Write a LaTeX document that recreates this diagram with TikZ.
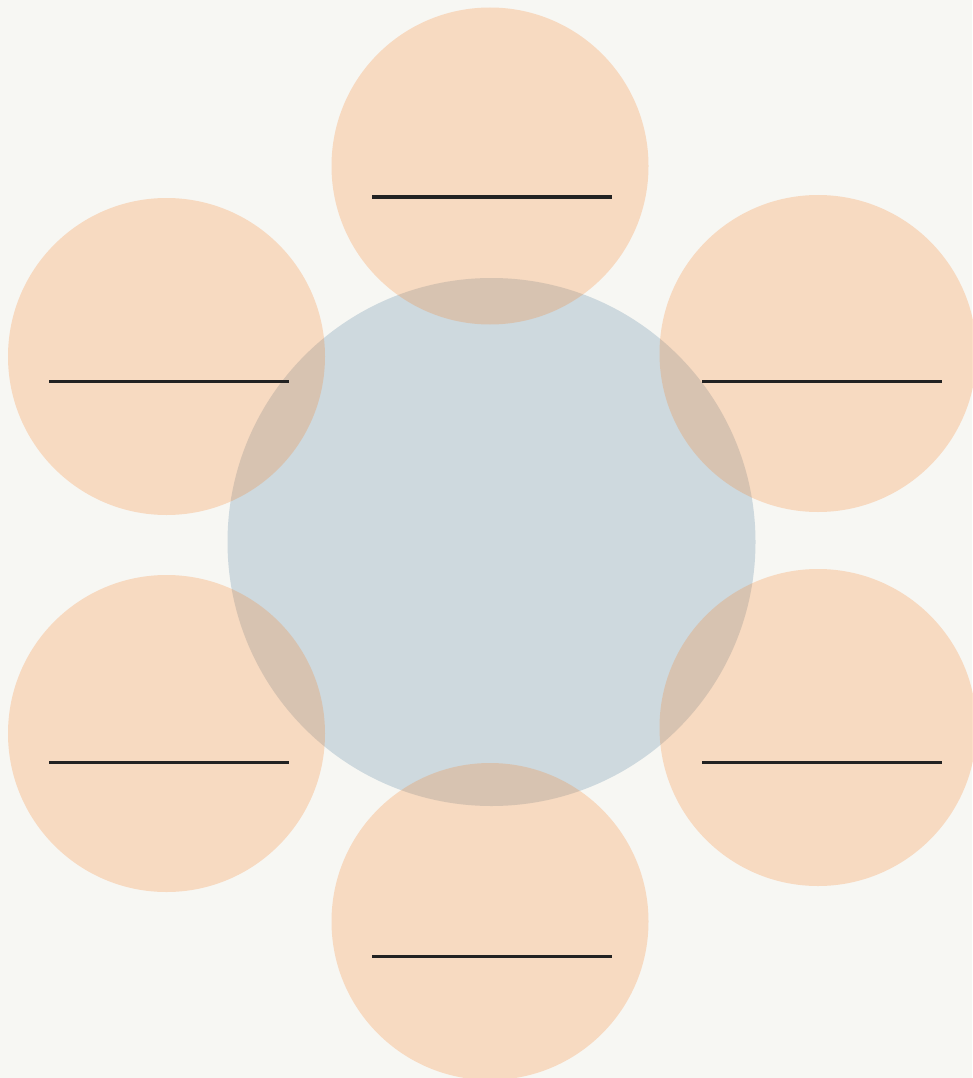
\documentclass[tikz,border=0pt]{standalone}
\usepackage{tikz}

\definecolor{paper}{HTML}{F7F7F3}
\definecolor{hubblue}{HTML}{CED9DE}
\definecolor{petalorange}{HTML}{F78026}
\definecolor{inkline}{HTML}{222222}

\begin{document}
\begin{tikzpicture}[
    x=1pt, y=-1pt,
    hub/.style={circle, fill=hubblue, minimum size=528pt, inner sep=0pt},
    petal/.style={circle, fill=petalorange, fill opacity=0.244, minimum size=317pt, inner sep=0pt},
    blank/.style={line width=3pt, inkline}
]

% Canvas
\fill[paper] (0, 0) rectangle (972, 1078);
\useasboundingbox (0, 0) rectangle (972, 1078);

% Centre circle
\node[hub] (hub) at (491.5, 542) {};

% Petals
\node[petal] (top) at (490, 166) {};
\node[petal] (topleft) at (166.5, 356.5) {};
\node[petal] (topright) at (818, 353.5) {};
\node[petal] (bottomleft) at (166.5, 733.5) {};
\node[petal] (bottomright) at (818, 727.5) {};
\node[petal] (bottom) at (490, 921.5) {};

% Blank lines to write on
\draw[blank] (372, 197) -- (612, 197);
\draw[blank] (49, 381) -- (289, 381);
\draw[blank] (702, 381) -- (942, 381);
\draw[blank] (49, 762) -- (289, 762);
\draw[blank] (702, 762) -- (942, 762);
\draw[blank] (372, 956) -- (612, 956);

\end{tikzpicture}
\end{document}
